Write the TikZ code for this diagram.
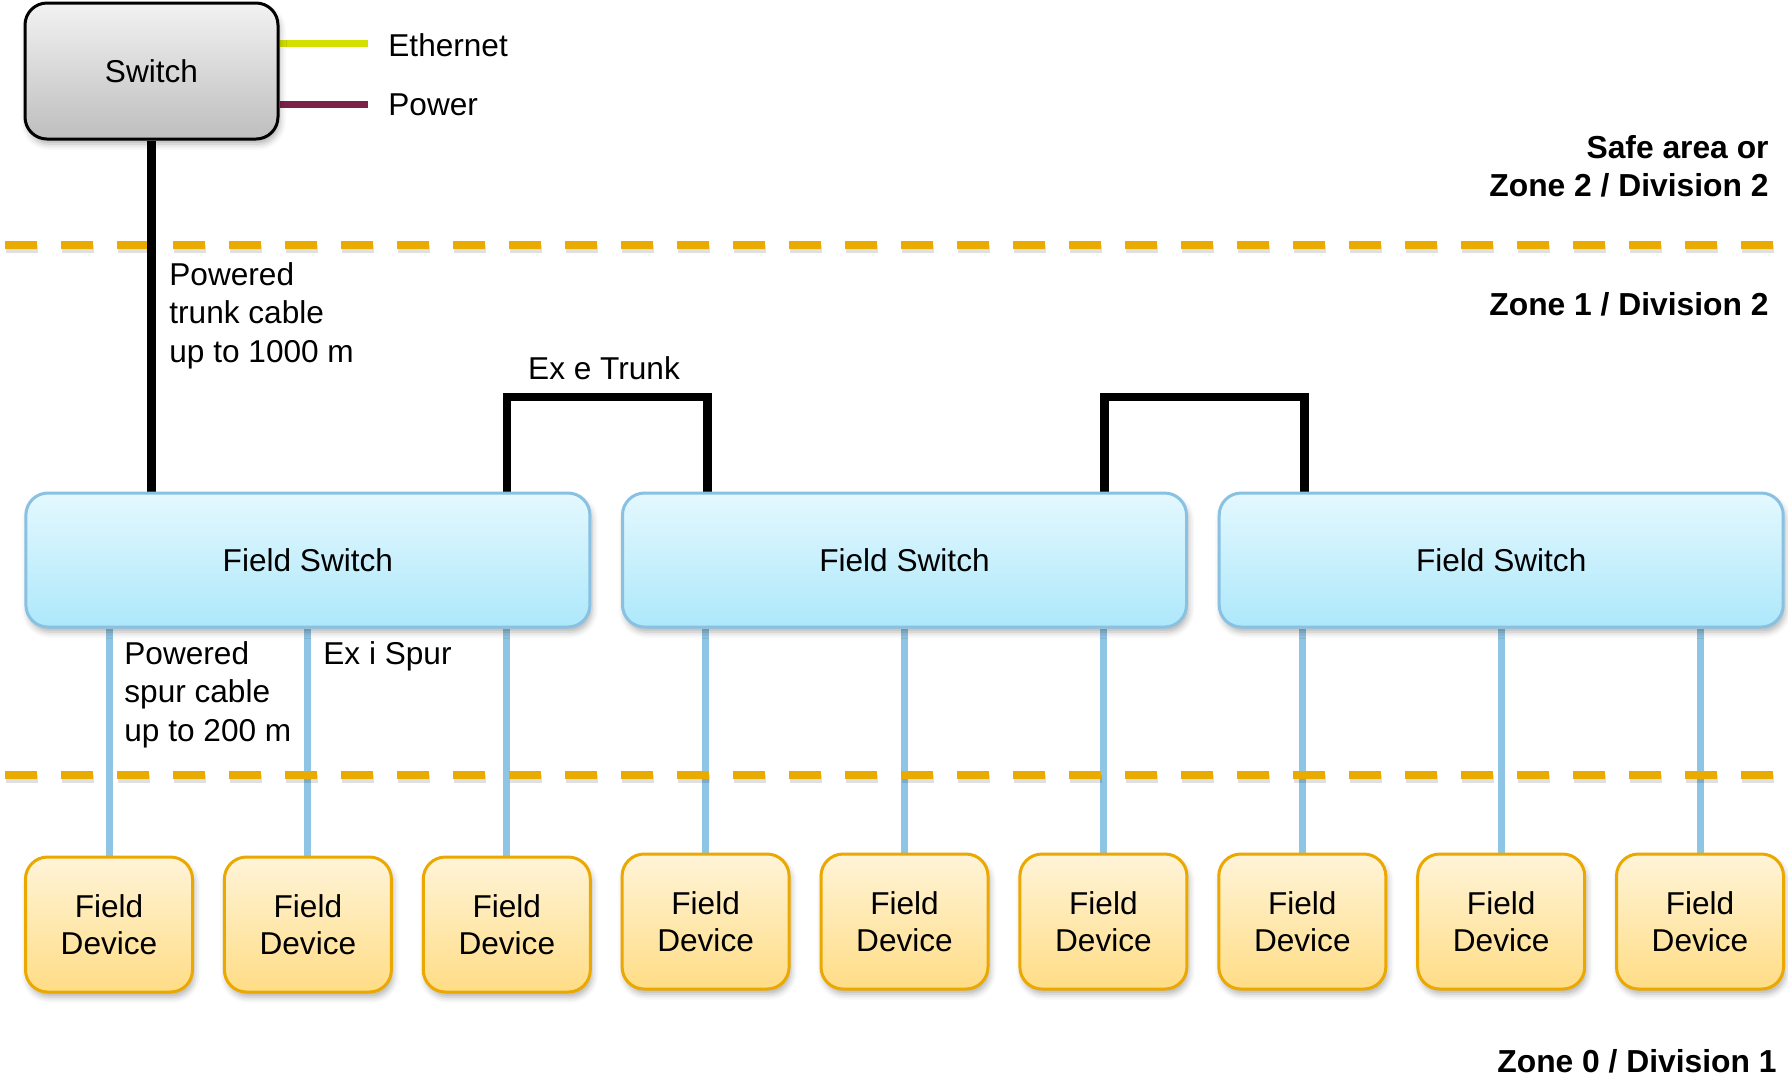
\documentclass[tikz,border=0pt]{standalone}
\usepackage{fontspec}
\setmainfont{Liberation Sans}
\usetikzlibrary{shadows.blur,backgrounds}
\definecolor{ethc}{RGB}{212,224,0}
\definecolor{powc}{RGB}{124,34,73}
\definecolor{zonec}{RGB}{234,171,0}
\definecolor{spurc}{RGB}{142,196,228}
\definecolor{fstop}{RGB}{228,248,254}
\definecolor{fsbot}{RGB}{173,232,251}
\definecolor{fsborder}{RGB}{137,193,226}
\definecolor{devtop}{RGB}{255,244,216}
\definecolor{devbot}{RGB}{255,221,134}
\definecolor{devborder}{RGB}{234,168,0}
\definecolor{swtop}{RGB}{242,242,242}
\definecolor{swbot}{RGB}{190,190,190}
\tikzset{
  box/.style={rounded corners=11pt, line width=1.5pt, inner sep=0pt, align=center,
    font=\fontsize{15.8}{18.8}\selectfont,
    blur shadow={shadow xshift=1pt, shadow yshift=-2.5pt, shadow blur radius=3pt, shadow opacity=30}},
  swbox/.style={box, draw=black, top color=swtop, bottom color=swbot,
    minimum width=126.5pt, minimum height=68pt},
  fsbox/.style={box, draw=fsborder, top color=fstop, bottom color=fsbot,
    minimum width=282pt, minimum height=67pt},
  devbox/.style={box, draw=devborder, top color=devtop, bottom color=devbot,
    minimum width=83.5pt, minimum height=67.5pt},
  lbl/.style={inner sep=0pt, align=left, font=\fontsize{15.8}{19.2}\selectfont},
  zonelbl/.style={inner sep=0pt, align=right, font=\bfseries\fontsize{15.9}{18.8}\selectfont},
  trunk/.style={line width=4.2pt, black},
  spur/.style={line width=3.5pt, spurc},
  zoneline/.style={line width=4pt, zonec, dash pattern=on 16pt off 12pt},
  zoneshadow/.style={line width=4pt, black, opacity=0.12, dash pattern=on 16pt off 12pt},
  ethline/.style={line width=3.5pt, ethc},
  powline/.style={line width=3.5pt, powc},
}
\begin{document}
\begin{tikzpicture}[x=0.5pt,y=0.5pt]
\useasboundingbox (0,0) rectangle (1788,-1078);

% nodes
\node[swbox] (sw) at (151.5,-71) {\raisebox{-1pt}{Switch}};
\node[fsbox] (fs1) at (307.9,-560) {Field Switch};
\node[fsbox] (fs2) at (904.5,-560) {Field Switch};
\node[fsbox] (fs3) at (1501.2,-560) {Field Switch};
\foreach \i/\x/\y in {1/109/924.5, 2/307.9/924.5, 3/506.8/924.5,
  4/705.6/921.5, 5/904.5/921.5, 6/1103.4/921.5,
  7/1302.3/921.5, 8/1501.2/921.5, 9/1700/921.5}
  \node[devbox] (d\i) at (\x,-\y) {Field\\Device};

% labels
\node[lbl, anchor=west] (eth) at (388,-45) {Ethernet};
\node[lbl, anchor=west] (pow) at (388,-105) {Power};
\node[zonelbl, anchor=north east] (zsafe) at (1769,-135.5) {Safe area or\\Zone 2 / Division 2};
\node[zonelbl, anchor=east] (zone1) at (1769,-304.5) {Zone 1 / Division 2};
\node[zonelbl, anchor=east] (zone0) at (1777,-1061) {Zone 0 / Division 1};
\node[lbl, anchor=north west] (trunklbl) at (169,-262) {Powered\\trunk cable\\up to 1000 m};
\node[lbl] (exe) at (604,-368) {Ex e Trunk};
\node[lbl, anchor=north west] (spurlbl) at (124,-641) {Powered\\spur cable\\up to 200 m};
\node[lbl, anchor=north west] (exi) at (323,-641) {Ex i Spur};

% coordinates
\coordinate (ethend) at (368,-43.5);
\coordinate (powend) at (368,-104);
\coordinate (z1l) at (5,-245);
\coordinate (z1r) at (1773,-245);
\coordinate (z2l) at (5,-775);
\coordinate (z2r) at (1773,-775);
\coordinate (b1l) at (507,-397);
\coordinate (b1r) at (707.5,-397);
\coordinate (b2l) at (1104.3,-397);
\coordinate (b2r) at (1304.5,-397);

\begin{scope}[on background layer]
  \foreach \i/\f in {1/fs1,2/fs1,3/fs1,4/fs2,5/fs2,6/fs2,7/fs3,8/fs3,9/fs3}
    \draw[spur] (d\i.north |- \f.south) -- (d\i.north);
  \draw[zoneshadow, transform canvas={xshift=0.5pt,yshift=-2pt}] (z1l) -- (z1r);
  \draw[zoneshadow, transform canvas={xshift=0.5pt,yshift=-2pt}] (z2l) -- (z2r);
  \draw[zoneline] (z1l) -- (z1r);
  \draw[zoneline] (z2l) -- (z2r);
  \draw[ethline] (sw.east |- ethend) -- (ethend);
  \draw[powline] (sw.east |- powend) -- (powend);
  \draw[trunk] (sw.south) -- (sw.south |- fs1.north);
  \draw[trunk, line join=miter] (fs1.north -| b1l) -- (b1l) -- (b1r) -- (fs2.north -| b1r);
  \draw[trunk, line join=miter] (fs2.north -| b2l) -- (b2l) -- (b2r) -- (fs3.north -| b2r);
\end{scope}
\end{tikzpicture}
\end{document}
